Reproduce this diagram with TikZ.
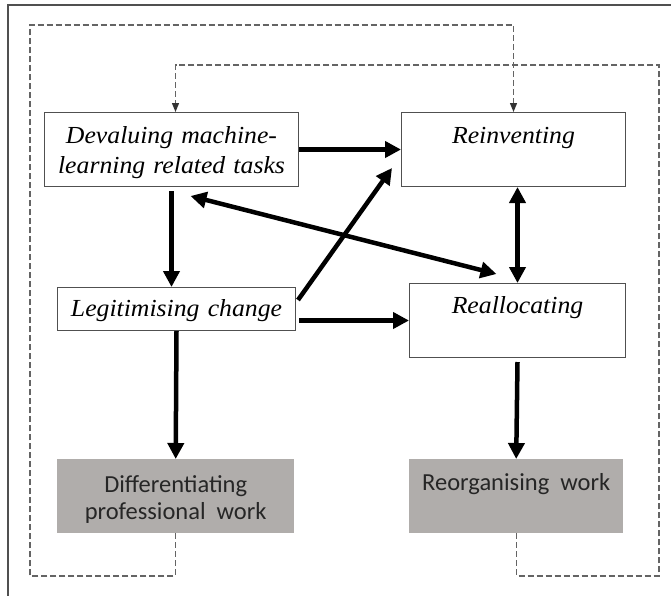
\documentclass[tikz,border=0pt]{standalone}
\usepackage{fontspec}
\usetikzlibrary{arrows.meta}
\newfontfamily\boxserif[FakeStretch=1.05]{Liberation Serif}
\newfontfamily\boxsans{Carlito}
\definecolor{boxgrey}{RGB}{176,173,171}
\definecolor{edgegrey}{RGB}{80,80,80}
\definecolor{dashgrey}{RGB}{100,100,100}
\begin{document}
\begin{tikzpicture}[x=1pt, y=-1pt,
    whitebox/.style={draw=edgegrey, line width=1pt, inner sep=0pt, anchor=north west, align=center,
        font=\boxserif\itshape\fontsize{24.5}{30}\selectfont},
    greybox/.style={fill=boxgrey, inner sep=0pt, anchor=north west, align=center, text=black!85,
        font=\boxsans\fontsize{24.5}{27}\selectfont},
    bigarrow/.style={line width=4.5pt, -{Triangle[length=16pt,width=16pt]}},
    bigboth/.style={line width=4.5pt, {Triangle[length=16pt,width=16pt]}-{Triangle[length=16pt,width=16pt]}},
    feedback/.style={dashgrey, line width=1.2pt, dash pattern=on 6pt off 3pt, -{Triangle[length=9pt,width=7pt,color=black!80]}}]
    \useasboundingbox (0,0) rectangle (671,595);
    \draw[edgegrey, line width=1.5pt] (8,600) -- (8,5) -- (680,5);
    % white boxes
    \node[whitebox, text width=254pt, text height=31pt, text depth=43pt] (dev) at (44,112) {Devaluing machine-\\learning related tasks};
    \node[whitebox, text width=224pt, text height=31pt, text depth=43pt] (rei) at (401,112) {Reinventing};
    \node[whitebox, text width=238pt, text height=29pt, text depth=14pt] (leg) at (57,287) {Legitimising change};
    \node[whitebox, text width=216pt, text height=30pt, text depth=44pt] (rea) at (409,283) {Reallocating};
    % grey boxes
    \node[greybox, text width=237pt, text height=33pt, text depth=41pt] (dif) at (57,459) {Differentiating\\professional\hspace{0.45em}work};
    \node[greybox, text width=214pt, text height=31pt, text depth=43pt] (reo) at (409,459) {Reorganising\hspace{0.45em}work};
    % arrows
    \draw[bigarrow] (dev.east) -- (rei.west);
    \draw[bigarrow] ([shift={(0,4)}]dev.south) -- (dev.south |- leg.north);
    \draw[bigarrow] ([shift={(2,13)}]leg.north east) -- ([shift={(-9,-19)}]rei.south west);
    \draw[bigboth] ([shift={(19,9)}]dev.south) -- ([shift={(-21,-9)}]rea.north);
    \draw[bigboth] (rea.north |- rei.south) -- (rea.north);
    \draw[bigarrow] ([xshift=3]leg.east |- rea.west) -- (rea.west);
    \draw[bigarrow] (leg.south) -- (dif.north);
    \draw[bigarrow] ([shift={(0,4)}]rea.south) -- (reo.north);
    % dashed feedback loops
    \coordinate (fbA1) at (30,576);
    \coordinate (fbA2) at (30,25);
    \draw[feedback] (dif.south) |- (fbA1) -- (fbA2) -| (rei.north);
    \coordinate (fbB1) at (659,576);
    \coordinate (fbB2) at (659,65);
    \draw[feedback] (reo.south) |- (fbB1) -- (fbB2) -| ([xshift=4]dev.north);
\end{tikzpicture}
\end{document}
